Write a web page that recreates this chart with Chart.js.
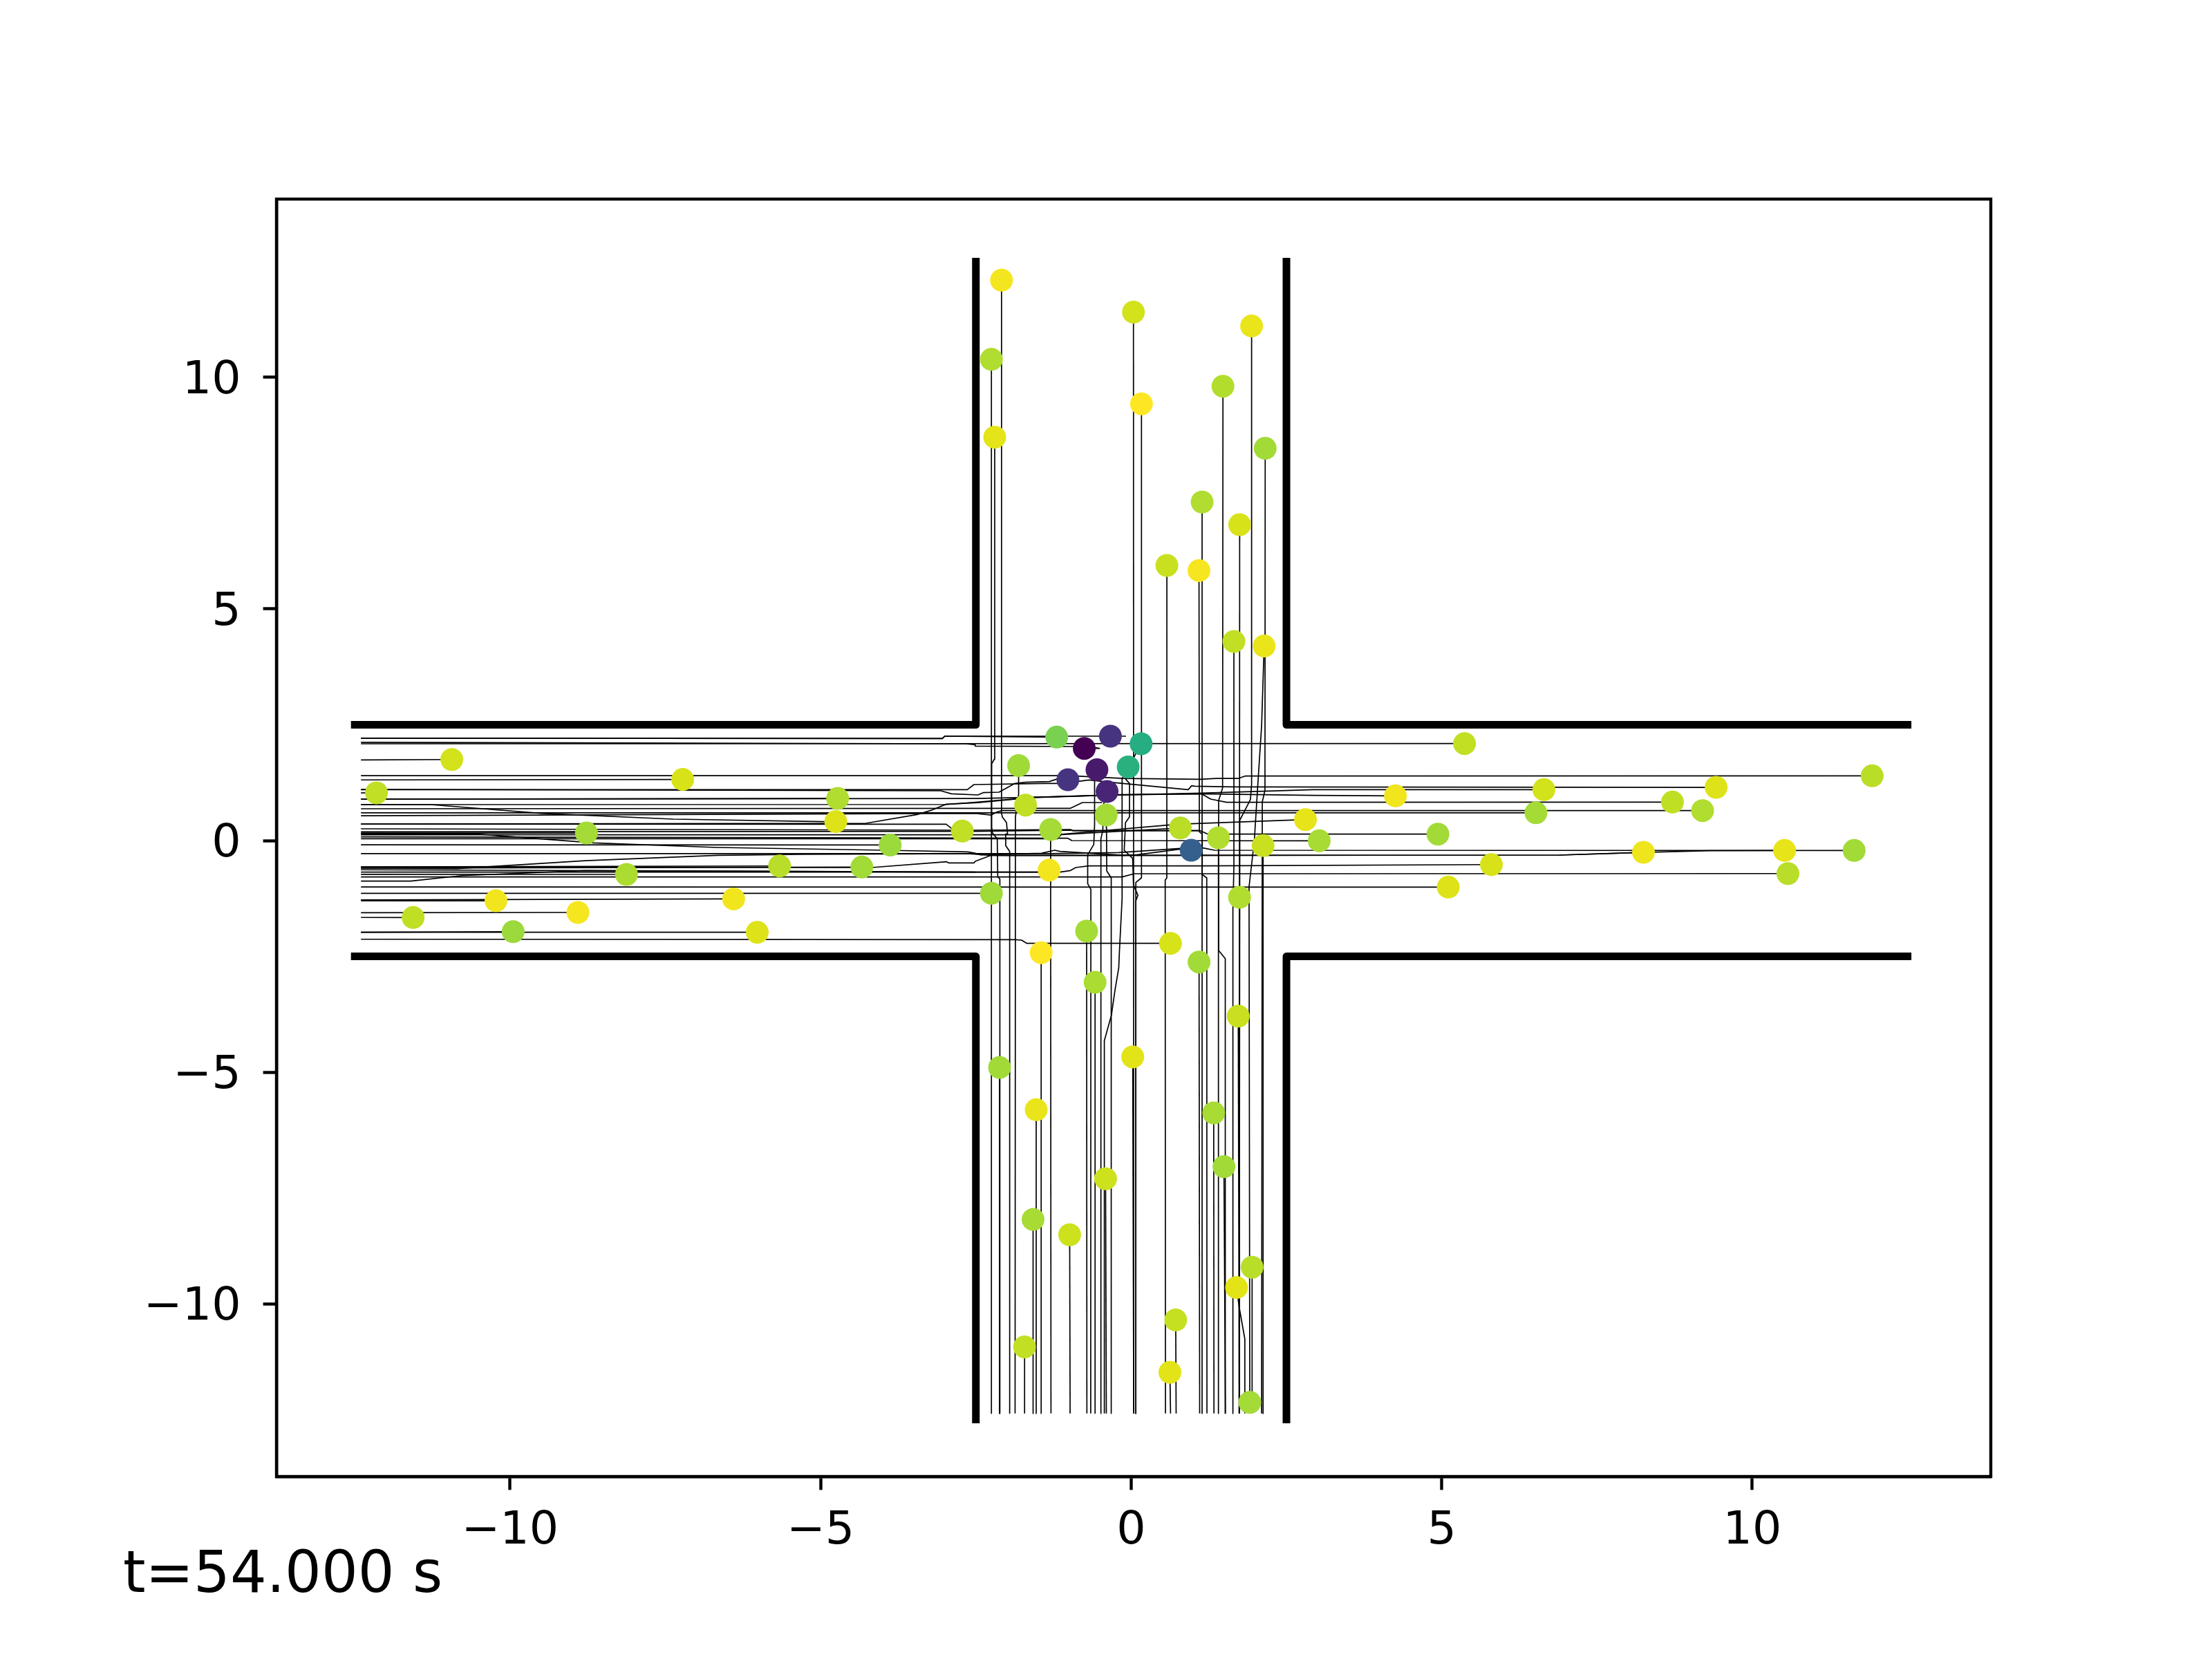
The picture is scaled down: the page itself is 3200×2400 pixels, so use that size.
<!DOCTYPE html>
<html><head><meta charset="utf-8">
<style>html,body{margin:0;padding:0;background:#fff}canvas{display:block}</style>
<script src="https://cdn.jsdelivr.net/npm/chart.js@4"></script>
</head><body><canvas id="c" width="3200" height="2400"></canvas>
<script>
const timeLabel = "t=54.000 s";
const tickValues = [-10,-5,0,5,10];
const wallTL = [[-12.5,2.5],[-2.5,2.5],[-2.5,12.5]];
const wallTR = [[12.5,2.5],[2.5,2.5],[2.5,12.5]];
const wallBL = [[-12.5,-2.5],[-2.5,-2.5],[-2.5,-12.5]];
const wallBR = [[12.5,-2.5],[2.5,-2.5],[2.5,-12.5]];

const pointX = [-2.087,-2.25,-2.197,0.037,0.166,1.939,1.478,2.158,1.142,1.747,0.575,1.092,1.654,2.141,
 -1.198,-0.755,-0.334,0.16,-0.048,-1.812,-0.551,-1.019,-0.388,-1.70,-0.402,-1.297,-2.719,0.791,1.405,0.966,2.124,2.806,-1.321,-2.25,1.745,-0.717,0.633,1.093,-1.449,-0.581,-3.88,
 -10.937,-7.22,-12.15,-4.726,-4.755,-8.77,-8.125,-5.66,-4.336,-10.227,-6.40,-11.56,-8.907,-9.95,-6.02,
 5.367,11.93,9.418,6.645,4.255,8.715,9.2,6.517,4.939,3.028,8.248,10.52,11.64,5.80,10.574,5.105,
 1.724,0.025,-2.119,-1.529,1.329,1.494,-0.412,-1.579,-0.99,1.947,1.696,0.717,-1.716,0.624,1.91];
const pointY = [12.1,10.39,8.71,11.41,9.43,11.11,9.81,8.47,7.31,6.82,5.94,5.83,4.30,4.20,
 2.234,1.99,2.254,2.09,1.59,1.62,1.53,1.313,1.06,0.766,0.552,0.239,0.204,0.273,0.06,-0.209,-0.109,0.453,-0.637,-1.139,-1.224,-1.955,-2.219,-2.622,-2.42,-3.06,-0.095,
 1.75,1.32,1.03,0.91,0.41,0.164,-0.731,-0.548,-0.572,-1.299,-1.259,-1.661,-1.552,-1.966,-1.98,
 2.095,1.398,1.149,1.10,0.965,0.831,0.647,0.60,0.139,-0.005,-0.254,-0.214,-0.214,-0.518,-0.712,-1.005,
 -3.79,-4.67,-4.90,-5.81,-5.88,-7.04,-7.30,-8.18,-8.51,-9.21,-9.65,-10.35,-10.93,-11.48,-12.13];
const pointColors = ["#f4e61e","#b0dd2f","#e4e419","#d2e21b","#fde725","#eae51a","#b2dd2d","#a2da37","#b0dd2f","#d8e219","#c8e020","#f6e620","#c2df23","#eae51a",
 "#7ad151","#440154","#463480","#26ad81","#2ab07f","#a0da39","#481a6c","#463480","#482576","#c0df25","#a5db36","#a5db36","#c0df25","#bade28","#b0dd2f","#35608d","#c8e020","#e7e419","#f4e61e","#a0da39","#b0dd2f","#a5db36","#d8e219","#a2da37","#fde725","#aadc32","#9bd93c",
 "#d2e21b","#d8e219","#c0df25","#b0dd2f","#dde318","#a5db36","#addc30","#b8de29","#a2da37","#f1e51d","#f1e51d","#bfdf25","#f6e620","#9bd93c","#dde318",
 "#c2df23","#bade28","#dde318","#d2e21b","#f1e51d","#bfdf25","#b0dd2f","#a5db36","#a2da37","#a8db34","#efe51c","#e7e419","#a2da37","#d8e219","#b8de29","#dde318",
 "#c8e020","#e2e418","#a2da37","#eae51a","#a8db34","#a2da37","#cde11d","#a8db34","#cde11d","#b8de29","#e2e418","#c5e021","#c2df23","#e2e418","#a5db36"];

const verticalTrails = [
 [-2.115,-12.37,-2.119,-4.90],
 [-2.247,-12.37,-2.25,10.39],
 [-2.115,-12.37,-2.114,-0.83,-2.148,-0.78,-2.156,0.04,-2.233,0.165,-2.246,0.289,-2.246,1.657,-2.203,1.757,-2.197,8.71],
 [-1.955,-12.37,-1.956,-0.234,-2.02,-0.109,-2.02,0.14,-1.99,0.14,-2.007,0.388,-2.075,0.513,-2.093,0.637,-2.087,12.1],
 [-1.869,-12.37,-1.863,0.513,-1.811,1.01,-1.812,1.62],
 [-1.716,-12.37,-1.716,-10.93],
 [-1.584,-12.37,-1.579,-8.18],
 [-1.525,-12.37,-1.529,-5.81],
 [-1.447,-12.37,-1.449,-2.42],
 [-1.291,-12.37,-1.297,0.239],
 [-0.983,-12.37,-0.99,-8.51],
 [-0.713,-12.37,-0.717,-1.955],
 [-0.580,-12.37,-0.581,-3.06],
 [-0.40,-12.37,-0.412,-7.30],
 [0.041,-12.37,0.025,-4.67],
 [0.041,-12.37,0.037,11.41],
 [-0.651,-12.37,-0.649,-1.054,-0.70,-0.93,-0.70,-0.308,-0.602,-0.084,-0.589,0.338,-0.589,1.284,-0.551,1.53],
 [-0.49,-12.37,-0.487,0.04,-0.457,0.214,-0.444,0.786,-0.388,1.06],
 [-0.318,-12.37,-0.321,-0.806,-0.393,-0.656,-0.397,0.289,-0.402,0.552],
 [-0.432,-12.37,-0.432,-4.32,-0.318,-3.77,-0.26,-3.225,-0.20,-2.746,-0.189,-2.4,-0.146,-1.25,-0.146,1.33,-0.048,1.59],
 [0.08,-12.37,0.075,-0.905,0.165,-0.806,0.166,9.43],
 [0.08,-12.37,0.075,-1.30,0.109,-1.18,0.037,-0.955,0.024,-0.383,-0.112,-0.209,-0.091,0.388,-0.027,0.513,-0.027,1.234,-0.091,1.33,0.046,1.806,0.16,2.09],
 [0.552,-12.37,0.548,-0.855,0.574,-0.806,0.575,5.94],
 [0.634,-12.37,0.624,-11.48],
 [0.724,-12.37,0.717,-10.35],
 [1.103,-12.37,1.093,-2.622],
 [1.146,-12.37,1.142,7.31],
 [1.22,-12.37,1.217,-0.806,1.144,-0.731,1.144,0.14,1.098,0.19,1.092,5.83],
 [1.333,-12.37,1.329,-5.88],
 [1.40,-12.37,1.405,0.06],
 [1.517,-12.37,1.494,-7.04],
 [1.517,-12.37,1.515,-2.547,1.408,-2.373,1.408,0.861,1.472,1.134,1.478,9.81],
 [1.642,-12.37,1.638,-1.5,1.655,-0.5,1.654,4.30],
 [1.74,-12.37,1.724,-3.79],
 [1.74,-12.37,1.745,-1.224],
 [1.74,-12.37,1.747,6.82],
 [1.74,-12.37,1.749,0.438,1.92,0.886,1.94,1.234,1.939,11.11],
 [1.83,-12.37,1.83,-10.76,1.74,-10.08,1.696,-9.65],
 [1.91,-12.37,1.91,-12.13],
 [1.947,-12.37,1.947,-9.21],
 [1.91,-12.37,1.898,-1.0,1.983,0.0,2.04,1.23,2.10,2.48,2.141,4.20],
 [2.10,-12.37,2.111,0.836,2.154,1.085,2.158,8.47],
 [2.13,-12.37,2.124,-0.109]
];
const horizontalTrails = [
 [-12.4,1.74,-10.937,1.75],
 [-12.4,1.31,-7.22,1.32],
 [-12.4,1.03,-12.15,1.03],
 [-12.4,0.895,-4.726,0.91],
 [-12.4,0.776,-11.28,0.776,-9.5,0.587,-7.37,0.463,-4.96,0.408,-4.755,0.41],
 [-12.4,0.164,-8.77,0.164],
 [-12.4,-0.73,-8.125,-0.731],
 [-12.4,-0.567,-5.66,-0.548],
 [-12.4,-0.597,-4.336,-0.572],
 [-12.4,-1.30,-10.227,-1.299],
 [-12.4,-1.28,-6.40,-1.259],
 [-12.4,-1.66,-11.56,-1.661],
 [-12.4,-1.557,-8.907,-1.552],
 [-12.4,-1.98,-9.95,-1.966],
 [-12.4,-1.98,-6.02,-1.98],
 [-12.4,-0.09,-3.88,-0.095],
 [-12.4,-1.14,-2.25,-1.139],
 [-12.4,-1.0,5.105,-1.005],
 [-12.4,0.60,6.517,0.60],
 [-12.4,2.09,5.367,2.095],
 [-12.4,2.21,-3.04,2.204,-3.0,2.254,-0.09,2.254,-0.334,2.254],
 [-12.4,2.21,-3.04,2.204,-3.0,2.254,-1.198,2.234],
 [-12.4,2.12,-2.66,2.09,-2.51,2.07,-2.51,2.04,-0.68,2.03,-0.51,1.99,-0.755,1.99],
 [-12.4,1.40,-1.0,1.40,-0.125,1.343,1.11,1.324,1.366,1.343,1.728,1.343,1.834,1.393,11.93,1.398],
 [-12.4,1.10,-2.638,1.10,-2.531,1.209,-1.4,1.234,-1.104,1.234,-0.68,1.309,-0.338,1.259,0.918,1.10,0.974,1.184,1.025,1.174,1.643,1.16,9.418,1.149],
 [-12.4,1.105,-3.064,1.075,-2.893,1.01,-2.467,0.985,-2.382,1.035,-2.127,1.045,-1.871,1.234,-1.70,1.259,-1.317,1.274,-1.19,1.33,-1.019,1.313],
 [-12.4,0.895,-2.47,0.91,-1.6,0.935,-0.21,0.985,1.13,1.025,2.13,1.065,2.93,1.10,6.645,1.10],
 [-12.4,0.358,-4.27,0.373,-3.447,0.562,-3.234,0.647,-2.978,0.786,-2.47,0.82,-1.615,0.926,-0.21,0.985,1.13,1.01,2.93,0.975,4.255,0.965],
 [-12.4,0.776,-2.96,0.78,-2.47,0.83,-1.6,0.93,-0.21,0.99,1.13,1.01,1.28,0.896,1.536,0.826,8.715,0.831],
 [-12.4,0.537,-2.51,0.587,-2.254,0.552,-2.17,0.612,-2.084,0.647,9.2,0.647],
 [-12.4,0.687,-1.53,0.697,-0.977,0.697,-0.785,0.821,-0.466,0.821],
 [-12.4,0.358,-2.978,0.353,-2.893,0.264,-2.719,0.204],
 [-12.4,0.254,-2.51,0.224,-0.977,0.239,-0.934,0.214,1.11,0.214,1.217,0.149,1.579,0.14,4.939,0.139],
 [-12.4,0.19,-2.51,0.2,-0.977,0.225,-0.934,0.214,1.11,0.214],
 [-12.4,0.124,-1.3,0.124,-1.14,0.135,0.62,0.338,0.974,0.363,2.806,0.453],
 [-12.4,0.04,-1.19,0.04,-1.126,0.13,0.791,0.273],
 [-12.4,0.08,-1.02,0.05,-0.955,0.0,3.028,-0.005],
 [-12.4,0.139,-10.53,0.139,-8.65,-0.05,-6.66,-0.149,-3.97,-0.209,-2.63,-0.244,-2.51,-0.273,-2.425,-0.308,-1.445,-0.273,-1.232,-0.209,-1.147,-0.234,-0.125,-0.318,0.088,-0.308,0.79,-0.184,0.966,-0.209],
 [-12.4,-0.28,-1.3,-0.28,-0.2,-0.26,0.79,-0.17,1.153,-0.159,1.344,-0.209,11.64,-0.214],
 [-12.4,-0.597,-10.85,-0.607,-8.79,-0.433,-6.66,-0.318,-5.25,-0.298,-2.63,-0.283,-2.254,-0.318,1.153,-0.318,6.893,-0.313,8.248,-0.254,9.32,-0.218,10.52,-0.214],
 [-12.4,-0.567,-4.18,-0.582,-2.97,-0.457,-2.94,-0.482,-2.53,-0.482,-2.51,-0.447,-2.254,-0.318,-1.956,-0.323,1.153,-0.318,6.893,-0.313,8.248,-0.254],
 [-12.4,-0.63,-2.51,-0.68,-1.488,-0.68,-1.321,-0.637],
 [-12.4,-0.876,-11.6,-0.876,-10.78,-0.757,-8.79,-0.647,-2.51,-0.68,-1.145,-0.68,-0.977,-0.646,-0.892,-0.582,-0.68,-0.547,1.153,-0.547,5.80,-0.518],
 [-12.4,-0.786,-0.146,-0.786,0.046,-0.716,10.574,-0.712],
 [-12.4,-0.68,-2.51,-0.68],
 [-12.4,-2.13,-1.871,-2.139,-1.765,-2.149,-1.68,-2.219,0.633,-2.219]
];

const toXY = flat => { const out=[]; for(let i=0;i<flat.length;i+=2) out.push({x:flat[i],y:flat[i+1]}); return out; };
const trailSet = flat => ({data:toXY(flat),showLine:true,borderColor:"#000",borderWidth:1.7,pointRadius:0,fill:false,tension:0,borderJoinStyle:"round",order:3});
const wallSet = pts => ({data:pts.map(p=>({x:p[0],y:p[1]})),showLine:true,borderColor:"#000",borderWidth:11,pointRadius:0,fill:false,tension:0,borderCapStyle:"square",borderJoinStyle:"round",order:2});

const frame = {id:"frame",afterDraw(ch){
  const a=ch.chartArea,c=ch.ctx;c.save();c.strokeStyle="#000";c.lineWidth=4.4;
  c.strokeRect(a.left,a.top,a.right-a.left,a.bottom-a.top);
  c.fillStyle="#000";c.font='83px "DejaVu Sans"';c.textBaseline="alphabetic";c.textAlign="left";
  c.fillText(timeLabel,178,2303);c.restore();
}};
const ticksFont={family:"DejaVu Sans",size:66.7};
const minus = v => String(v).replace("-","\u2212");
new Chart(document.getElementById("c"),{
 type:"scatter",
 data:{datasets:[
  {data:pointX.map((x,i)=>({x,y:pointY[i]})),pointBackgroundColor:pointColors,pointBorderWidth:0,pointRadius:16.5,showLine:false,order:1},
  ...[wallTL,wallTR,wallBL,wallBR].map(wallSet),
  ...verticalTrails.map(trailSet),
  ...horizontalTrails.map(trailSet)
 ]},
 options:{
  responsive:false,devicePixelRatio:1,animation:false,
  layout:{padding:{left:0,right:320,top:288,bottom:0}},
  plugins:{legend:{display:false},tooltip:{enabled:false},title:{display:false}},
  scales:{
   x:{type:"linear",min:-13.76,max:13.84,
    afterBuildTicks:s=>{s.ticks=tickValues.map(v=>({value:v}));},
    afterFit:s=>{s.height=264;},
    border:{display:true,color:"#000",width:4.4},
    grid:{drawOnChartArea:false,drawTicks:true,tickLength:19.4,tickWidth:4.4,tickColor:"#000"},
    ticks:{autoSkip:false,maxRotation:0,color:"#000",font:ticksFont,padding:20,callback:minus}},
   y:{type:"linear",min:-13.73,max:13.85,
    afterBuildTicks:s=>{s.ticks=tickValues.map(v=>({value:v}));},
    afterFit:s=>{s.width=400;},
    border:{display:true,color:"#000",width:4.4},
    grid:{drawOnChartArea:false,drawTicks:true,tickLength:19.4,tickWidth:4.4,tickColor:"#000"},
    ticks:{autoSkip:false,color:"#000",font:ticksFont,padding:32,labelOffset:6,callback:minus}}
  }
 },
 plugins:[frame]
});
</script></body></html>
